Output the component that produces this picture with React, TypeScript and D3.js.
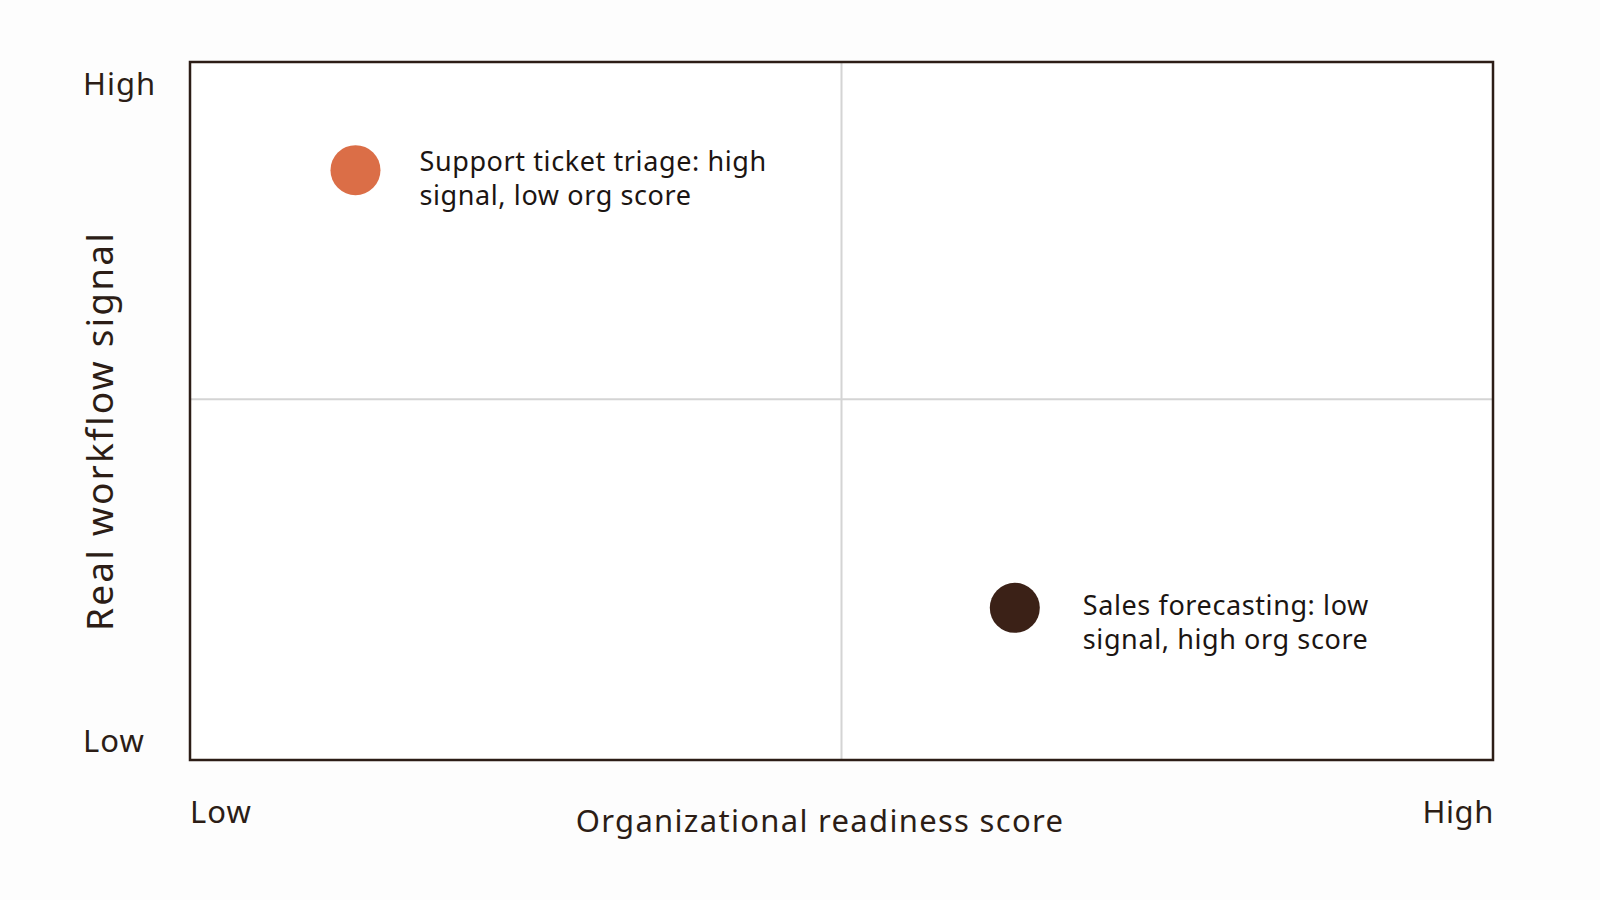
import React from "react";
import * as d3 from "d3";

const useCases = ["Support ticket triage", "Sales forecasting"];
const orgReadiness = [0.127, 0.633];
const workflowSignal = [0.845, 0.218];
const labelLines = [
  ["Support ticket triage: high", "signal, low org score"],
  ["Sales forecasting: low", "signal, high org score"],
];
const pointColors = ["#db6e47", "#3b2117"];
const xTickLabels = ["Low", "High"];
const yTickLabels = ["Low", "High"];
const xSplit = 0.5;
const ySplit = 0.517;
const xTitle = "Organizational readiness score";
const yTitle = "Real workflow signal";

const W = 1600;
const H = 900;
const FONT = "'Noto Sans', sans-serif";
const INK = "#2c1d16";

export default function App() {
  const x = d3.scaleLinear().domain([0, 1]).range([190, 1493]);
  const y = d3.scaleLinear().domain([0, 1]).range([760, 62]);
  return (
    <svg
      width={W}
      height={H}
      style={{ position: "absolute", left: 0, top: 0, background: "#fdfdfd" }}
      fontFamily={FONT}
    >
      <rect x={0} y={0} width={W} height={H} fill="#fdfdfd" />
      <rect
        x={x(0)}
        y={y(1)}
        width={x(1) - x(0)}
        height={y(0) - y(1)}
        fill="#ffffff"
      />
      <line x1={x(xSplit)} x2={x(xSplit)} y1={y(0)} y2={y(1)} stroke="#d4d4d4" strokeWidth={2} />
      <line x1={x(0)} x2={x(1)} y1={y(ySplit)} y2={y(ySplit)} stroke="#d4d4d4" strokeWidth={2} />
      <rect
        x={x(0)}
        y={y(1)}
        width={x(1) - x(0)}
        height={y(0) - y(1)}
        fill="none"
        stroke={INK}
        strokeWidth={2.5}
      />
      {useCases.map((name, i) => {
        const cx = x(orgReadiness[i]);
        const cy = y(workflowSignal[i]);
        const dy0 = i === 0 ? 1 : 7;
        const dx0 = i === 0 ? 64 : 68;
        return (
          <g key={name}>
            <circle cx={cx} cy={cy} r={25} fill={pointColors[i]} />
            <text x={cx + dx0} y={cy + dy0} fontSize={27} letterSpacing={0.6} fill="#1c1512">
              {labelLines[i].map((ln, j) => (
                <tspan key={j} x={cx + dx0} dy={j === 0 ? 0 : 34}>
                  {ln}
                </tspan>
              ))}
            </text>
          </g>
        );
      })}
      <text x={83} y={95} fontSize={31} letterSpacing={1} fill={INK}>{yTickLabels[1]}</text>
      <text x={83} y={752} fontSize={31} letterSpacing={1} fill={INK}>{yTickLabels[0]}</text>
      <text x={x(0)} y={823} fontSize={31} letterSpacing={1} fill={INK}>{xTickLabels[0]}</text>
      <text x={x(1) + 1} y={823} fontSize={31} letterSpacing={0.6} fill={INK} textAnchor="end">{xTickLabels[1]}</text>
      <text x={820} y={832} fontSize={31} letterSpacing={1.3} fill={INK} textAnchor="middle">{xTitle}</text>
      <text
        transform={`translate(113,431) rotate(-90)`}
        fontSize={37}
        letterSpacing={2.2}
        fill={INK}
        textAnchor="middle"
      >
        {yTitle}
      </text>
    </svg>
  );
}
